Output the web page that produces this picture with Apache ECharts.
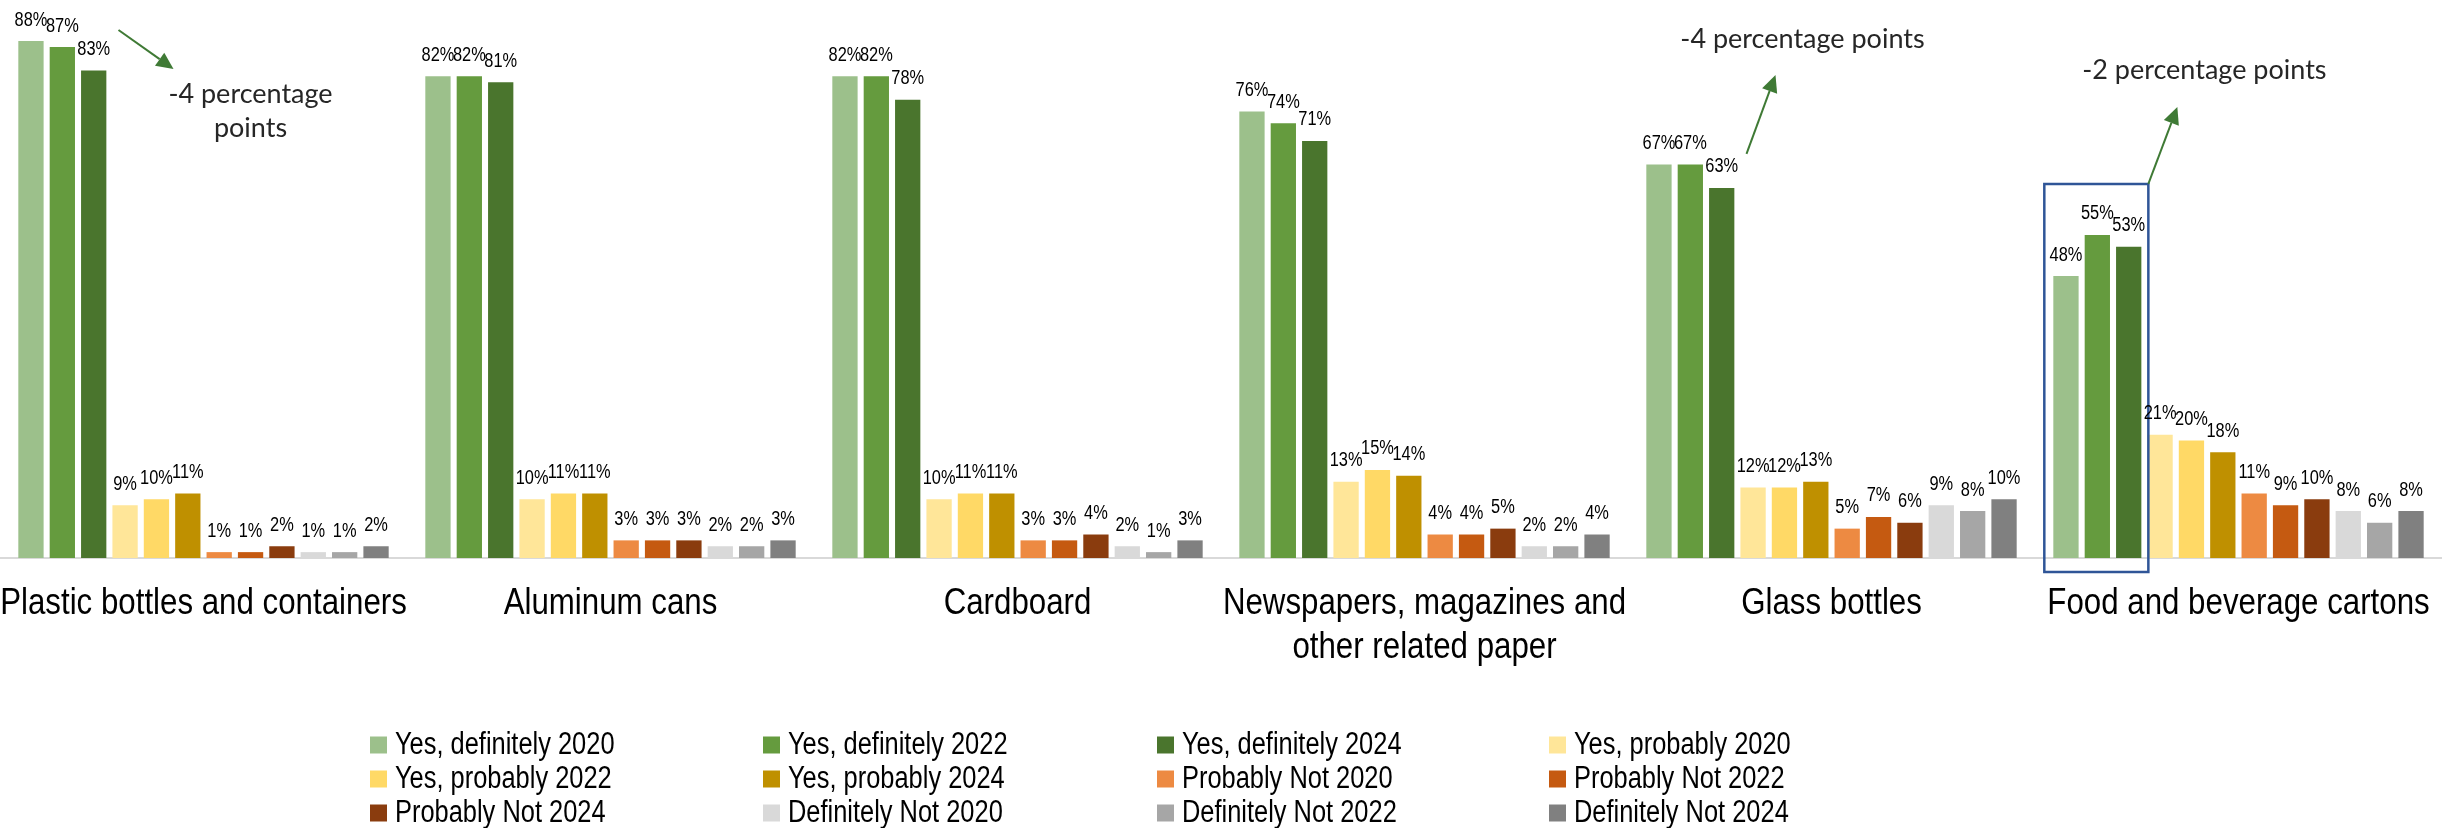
<!DOCTYPE html>
<html>
<head>
<meta charset="utf-8">
<script src="https://cdn.jsdelivr.net/npm/echarts@6/dist/echarts.min.js"></script>
<style>
  html, body { margin: 0; padding: 0; background: #ffffff; }
  #chart { width: 2442px; height: 828px; }
</style>
</head>
<body>
<div id="chart"></div>
<script>
// Materials asked about, one bar group each
const categories = [
  'Plastic bottles and containers',
  'Aluminum cans',
  'Cardboard',
  'Newspapers, magazines and\nother related paper',
  'Glass bottles',
  'Food and beverage cartons'
];

// Share of answers (%) per material, one array per answer and survey year
const yesDefinitely2020 = [88, 82, 82, 76, 67, 48];
const yesDefinitely2022 = [87, 82, 82, 74, 67, 55];
const yesDefinitely2024 = [83, 81, 78, 71, 63, 53];
const yesProbably2020   = [9, 10, 10, 13, 12, 21];
const yesProbably2022   = [10, 11, 11, 15, 12, 20];
const yesProbably2024   = [11, 11, 11, 14, 13, 18];
const probablyNot2020   = [1, 3, 3, 4, 5, 11];
const probablyNot2022   = [1, 3, 3, 4, 7, 9];
const probablyNot2024   = [2, 3, 4, 5, 6, 10];
const definitelyNot2020 = [1, 2, 2, 2, 9, 8];
const definitelyNot2022 = [1, 2, 1, 2, 8, 6];
const definitelyNot2024 = [2, 3, 3, 4, 10, 8];

const seriesNames = [
  'Yes, definitely 2020', 'Yes, definitely 2022', 'Yes, definitely 2024',
  'Yes, probably 2020', 'Yes, probably 2022', 'Yes, probably 2024',
  'Probably Not 2020', 'Probably Not 2022', 'Probably Not 2024',
  'Definitely Not 2020', 'Definitely Not 2022', 'Definitely Not 2024'
];
const seriesValues = [
  yesDefinitely2020, yesDefinitely2022, yesDefinitely2024,
  yesProbably2020, yesProbably2022, yesProbably2024,
  probablyNot2020, probablyNot2022, probablyNot2024,
  definitelyNot2020, definitelyNot2022, definitelyNot2024
];
const seriesColors = [
  '#9CC08B', '#659B3E', '#4A752D',
  '#FFE699', '#FFD966', '#BF9000',
  '#ED8A42', '#C55A11', '#8A3C0E',
  '#D9D9D9', '#A6A6A6', '#808080'
];

// Annotations: change between the 2022 and 2024 "Yes, definitely" shares
const notes = ['-4 percentage\npoints', '-4 percentage points', '-2 percentage points'];

// Arial-metric face, squeezed horizontally to read like a narrow sans
const sansFamily = "'Liberation Sans', Arial, sans-serif";
const squeeze = 0.82;
const noteFont = "Lato, 'Open Sans', sans-serif";
const arrowColor = '#3F7A35';

const chart = echarts.init(document.getElementById('chart'), null, { renderer: 'canvas' });

const series = seriesNames.map((name, i) => ({
  name: name,
  type: 'bar',
  data: seriesValues[i],
  barGap: '24%',
  barCategoryGap: '9%',
  itemStyle: { color: seriesColors[i] },
  label: { show: false }
}));

chart.setOption({
  animation: false,
  backgroundColor: '#ffffff',
  grid: { left: 0, right: 0, top: 0, bottom: 270, containLabel: false, outerBoundsMode: 'none' },
  xAxis: {
    type: 'category',
    data: categories,
    axisTick: { show: false },
    axisLine: { show: true, lineStyle: { color: '#D9D9D9', width: 2 } },
    axisLabel: { show: false }
  },
  yAxis: {
    type: 'value',
    min: 0,
    max: 95,
    show: false,
    splitLine: { show: false }
  },
  series: series
});

function px(cat, value) {
  return chart.convertToPixel({ gridIndex: 0 }, [cat, value]);
}
function barRect(seriesIdx, cat) {
  return chart.getModel().getSeriesByIndex(seriesIdx).getData().getItemLayout(cat);
}
function narrowText(x, y, text, size, align, vAlign, lineHeight, sx) {
  return {
    type: 'text', x: x, y: y, scaleX: sx || squeeze, z: 20,
    style: {
      text: text, font: size + 'px ' + sansFamily, fill: '#000000',
      textAlign: align, textVerticalAlign: vAlign, lineHeight: lineHeight || size * 1.15
    }
  };
}
function arrow(x1, y1, x2, y2) {
  const ang = Math.atan2(y2 - y1, x2 - x1);
  const len = 17, half = 8;
  const bx = x2 - len * Math.cos(ang), by = y2 - len * Math.sin(ang);
  const nx = -Math.sin(ang), ny = Math.cos(ang);
  return [
    { type: 'line', shape: { x1: x1, y1: y1, x2: bx, y2: by },
      style: { stroke: arrowColor, lineWidth: 2 }, z: 10 },
    { type: 'polygon',
      shape: { points: [[x2, y2], [bx + nx * half, by + ny * half], [bx - nx * half, by - ny * half]] },
      style: { fill: arrowColor }, z: 10 }
  ];
}

const graphics = [];
const axisY = px(0, 0)[1];

// Value labels above each bar
seriesValues.forEach((vals, s) => {
  vals.forEach((v, c) => {
    const r = barRect(s, c);
    const top = Math.min(r.y, r.y + r.height);
    graphics.push(narrowText(r.x + r.width / 2, top - 21, v + '%', 20, 'center', 'middle', 22));
  });
});

// Category names under each group
categories.forEach((name, c) => {
  graphics.push(narrowText(px(c, 0)[0], axisY + 24, name, 37, 'center', 'top', 44, 0.845));
});

// Legend grid: 4 columns, 3 rows, filled row by row
const legendCols = [370, 763, 1157, 1549];
const legendRows = [745, 779, 813];
seriesNames.forEach((name, i) => {
  const x = legendCols[i % 4], y = legendRows[Math.floor(i / 4)];
  graphics.push({
    type: 'rect', z: 20,
    shape: { x: x, y: y - 8.5, width: 17, height: 17 },
    style: { fill: seriesColors[i] }
  });
  graphics.push(narrowText(x + 25, y, name, 31, 'left', 'middle', 34));
});

// Plastic bottles: arrow pointing down to the note
const c0 = px(0, 0)[0];
const yTopPlastic = px(0, yesDefinitely2022[0])[1];
graphics.push(...arrow(c0 - 85, yTopPlastic - 17, c0 - 30, yTopPlastic + 22));
graphics.push({
  type: 'text', x: c0 + 47, y: yTopPlastic + 64, z: 10,
  style: { text: notes[0], font: '27px ' + noteFont, fill: '#262626',
           textAlign: 'center', textVerticalAlign: 'middle', lineHeight: 34 }
});

// Glass bottles: arrow rising from the 2024 bar
const c4 = px(4, 0)[0];
const yTopGlass = px(4, yesDefinitely2024[4])[1];
graphics.push(...arrow(c4 - 85, yTopGlass - 34, c4 - 56, yTopGlass - 113));
graphics.push({
  type: 'text', x: c4 - 29, y: yTopGlass - 149, z: 10,
  style: { text: notes[1], font: '27px ' + noteFont, fill: '#262626',
           textAlign: 'center', textVerticalAlign: 'middle' }
});

// Food and beverage cartons: box around the "Yes, definitely" bars
const r0 = barRect(0, 5), r2 = barRect(2, 5);
const yTopFood = px(5, yesDefinitely2022[5])[1];
const boxL = r0.x - 9, boxR = r2.x + r2.width + 7;
const boxT = yTopFood - 51, boxB = axisY + 14;
graphics.push({
  type: 'rect', z: 10,
  shape: { x: boxL, y: boxT, width: boxR - boxL, height: boxB - boxT },
  style: { fill: 'none', stroke: '#2F5597', lineWidth: 2.5 }
});
graphics.push(...arrow(boxR, boxT, boxR + 29, boxT - 77));
graphics.push({
  type: 'text', x: boxR + 56, y: boxT - 114, z: 10,
  style: { text: notes[2], font: '27px ' + noteFont, fill: '#262626',
           textAlign: 'center', textVerticalAlign: 'middle' }
});

chart.setOption({ graphic: { elements: graphics } });
</script>
</body>
</html>
